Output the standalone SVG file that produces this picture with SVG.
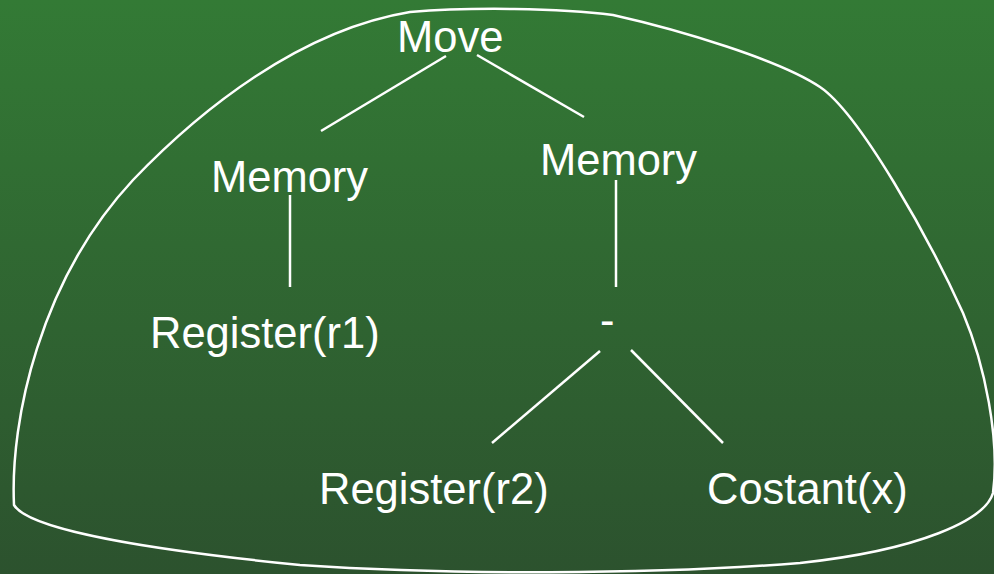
<svg xmlns="http://www.w3.org/2000/svg" width="994" height="574" viewBox="0 0 994 574">
<defs>
<linearGradient id="bg" x1="0" y1="0" x2="0" y2="1">
<stop offset="0" stop-color="#337a35"/>
<stop offset="1" stop-color="#2c522e"/>
</linearGradient>
<style>
.t{font-family:"Liberation Sans",Arial,sans-serif;font-size:43.5px;fill:#ffffff}
.c{stroke:#ffffff;stroke-width:2.5;fill:none}
</style>
</defs>
<rect x="0" y="0" width="994" height="574" fill="url(#bg)"/>
<path class="c" d="M410,12 C470,7 560,8 613,15 C680,30 780,60 820,87 C860,114 930,240 963,313 C985,365 1000,440 993,493 C985,520 920,550 800,563 C650,575 450,575 300,565 C170,552 30,532 14,505 C10,420 40,280 133,180 C200,110 300,30 410,12 Z"/>
<g id="connectors">
<line class="c" x1="446" y1="56" x2="321" y2="131"/>
<line class="c" x1="477" y1="55" x2="584" y2="117"/>
<line class="c" x1="290" y1="195" x2="290" y2="287"/>
<line class="c" x1="616" y1="180" x2="616" y2="287"/>
<line class="c" x1="600" y1="351" x2="492" y2="443"/>
<line class="c" x1="631" y1="350" x2="723" y2="443"/>
</g>
<g id="move"><text class="t" x="397" y="52">Move</text></g>
<g id="memory1"><text class="t" x="211" y="192">Memory</text></g>
<g id="memory2"><text class="t" x="540" y="175">Memory</text></g>
<g id="register1"><text class="t" x="150" y="348">Register(r1)</text></g>
<g id="minus"><text class="t" x="600" y="335">-</text></g>
<g id="register2"><text class="t" x="319" y="504">Register(r2)</text></g>
<g id="constant"><text class="t" x="707" y="504">Costant(x)</text></g>
</svg>
